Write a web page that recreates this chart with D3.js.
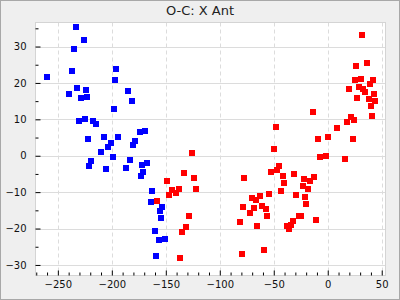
<!DOCTYPE html>
<html>
<head>
<meta charset="utf-8">
<script src="https://cdn.jsdelivr.net/npm/d3@7"></script>
<style>
  body { margin: 0; background: #efefef; }
  svg { display: block; font-family: "DejaVu Sans", sans-serif; }
</style>
</head>
<body>
<svg width="400" height="300"></svg>
<script>
var title = "O-C: X Ant";

// blue series (x, y)
var blueX = [-233.6, -226.2, -235.5, -237.3, -196.5, -259.6, -197.5, -232.7, -224.3, -240.1,
    -185.4, -229.0, -223.4, -181.7, -198.4, -230.8, -225.3, -217.9, -215.1, -174.3,
    -169.6, -207.7, -194.7, -222.5, -178.9, -201.2, -204.0, -180.8, -210.4, -199.3,
    -219.7, -221.6, -183.6, -205.8, -187.3, -172.4, -167.8, -171.5, -173.4, -163.2,
    -164.1, -153.9, -155.7, -154.8, -160.4, -156.7, -151.1, -159.5];
var blueY = [35.4, 31.8, 29.3, 23.3, 23.8, 21.6, 20.8, 18.6, 18.1, 17.0,
    17.8, 15.9, 16.1, 15.0, 12.8, 9.6, 10.1, 9.6, 8.7, 6.5,
    6.8, 5.2, 5.2, 4.5, 4.1, 3.5, 2.4, 3.0, 1.0, -0.3,
    -1.4, -2.8, -1.2, -3.6, -3.3, -2.5, -2.0, -4.4, -5.5, -9.7,
    -12.7, -14.1, -15.2, -17.1, -20.6, -23.1, -22.8, -27.5];

// red series (x, y)
var redX = [-126.1, -133.5, -124.2, -149.3, -122.4, -144.6, -138.1, -140.9, -147.4, -158.5,
    -128.9, -131.6, -135.3, -137.2, -50.1, -7.4, -1.9, -45.4, -47.3, -52.8,
    -77.9, -41.7, -31.5, -13.0, -22.2, -16.7, -40.8, -23.2, -18.5, -43.6,
    -54.7, -29.7, -21.3, -63.0, -70.5, -66.7, -20.4, -78.8, -68.6, -61.2,
    -57.5, -72.3, -56.5, -26.9, -25.0, -32.4, -11.1, -81.6, -34.3, -38.0,
    -36.2, -65.8, -59.3, -79.7, 31.5, 26.0, 36.2, 25.0, 30.6, 41.7,
    38.9, 19.5, 28.7, 32.4, 34.3, 42.6, 26.9, 38.0, 43.6, 39.9,
    40.8, -13.9, 21.3, 24.1, 17.6, 8.3, 0.0, -9.3, 23.2, -48.2, 15.8];
var redY = [0.8, -4.7, -6.1, -6.9, -9.1, -9.4, -9.1, -10.2, -10.8, -12.4,
    -16.5, -19.5, -20.9, -28.1, 1.9, -0.3, -0.1, -2.8, -3.9, -4.4,
    -6.1, -5.5, -5.0, -5.8, -6.4, -6.9, -7.5, -8.3, -9.1, -9.7,
    -10.5, -10.8, -11.3, -11.0, -11.6, -12.1, -13.2, -14.1, -14.3, -13.8,
    -14.6, -15.7, -16.5, -16.5, -16.5, -17.9, -17.6, -18.2, -19.0, -19.3,
    -20.1, -19.3, -25.9, -27.0, 33.2, 24.6, 25.5, 20.8, 21.1, 20.8,
    19.7, 18.3, 18.9, 18.3, 17.5, 17.0, 15.9, 15.6, 15.0, 13.7,
    10.9, 12.0, 10.7, 9.8, 9.3, 7.6, 5.2, 4.6, 4.6, 7.9, -0.9];

var xMajor = [-250, -200, -150, -100, -50, 0, 50];
var yMajor = [-30, -20, -10, 0, 10, 20, 30];

var svg = d3.select("svg"),
    plot = {left: 35.5, right: 385.5, top: 22.5, bottom: 275.5};

var x = d3.scaleLinear().domain([-270.7, 53.5]).range([plot.left, plot.right]),
    y = d3.scaleLinear().domain([-32.9, 36.6]).range([plot.bottom, plot.top]);

// outer frame
svg.append("rect")
    .attr("x", 0.5).attr("y", 0.5).attr("width", 399).attr("height", 299)
    .attr("fill", "#efefef").attr("stroke", "#a8a8a8");

svg.append("text")
    .attr("x", 200).attr("y", 15)
    .attr("text-anchor", "middle")
    .attr("font-size", 13)
    .attr("fill", "#222")
    .text(title);

// plot area
svg.append("rect")
    .attr("x", plot.left).attr("y", plot.top)
    .attr("width", plot.right - plot.left).attr("height", plot.bottom - plot.top)
    .attr("fill", "#fff");

// grid
svg.append("g").selectAll("line").data(yMajor).enter().append("line")
    .attr("x1", plot.left).attr("x2", plot.right)
    .attr("y1", function (d) { return Math.round(y(d)) + 0.5; })
    .attr("y2", function (d) { return Math.round(y(d)) + 0.5; })
    .attr("stroke", "#dcdcdc");

svg.append("g").selectAll("line").data(xMajor).enter().append("line")
    .attr("x1", function (d) { return Math.round(x(d)) + 0.5; })
    .attr("x2", function (d) { return Math.round(x(d)) + 0.5; })
    .attr("y1", plot.top).attr("y2", plot.bottom)
    .attr("stroke", "#dcdcdc")
    .attr("stroke-dasharray", "4,3");

// points
svg.append("g").selectAll("rect").data(d3.range(blueX.length)).enter().append("rect")
    .attr("x", function (i) { return Math.round(x(blueX[i])) - 3; })
    .attr("y", function (i) { return Math.round(y(blueY[i])) - 3; })
    .attr("width", 6).attr("height", 6)
    .attr("fill", "#0000ff");

svg.append("g").selectAll("rect").data(d3.range(redX.length)).enter().append("rect")
    .attr("x", function (i) { return Math.round(x(redX[i])) - 3; })
    .attr("y", function (i) { return Math.round(y(redY[i])) - 3; })
    .attr("width", 6).attr("height", 6)
    .attr("fill", "#ff0000");

// plot border
svg.append("rect")
    .attr("x", plot.left).attr("y", plot.top)
    .attr("width", plot.right - plot.left).attr("height", plot.bottom - plot.top)
    .attr("fill", "none").attr("stroke", "#d4d4d4");

// axes, ticks pointing inward
var xMinor = d3.range(-270, 54, 10).filter(function (d) { return xMajor.indexOf(d) < 0; }),
    yMinor = d3.range(-30, 37, 5).filter(function (d) { return yMajor.indexOf(d) < 0; });

var gx = svg.append("g").attr("transform", "translate(0," + plot.bottom + ")");
gx.call(d3.axisBottom(x).tickValues(xMajor).tickSize(-5).tickPadding(5));
gx.append("g").call(d3.axisBottom(x).tickValues(xMinor).tickSize(-3).tickFormat(""));

var gy = svg.append("g").attr("transform", "translate(" + plot.left + ",0)");
gy.call(d3.axisLeft(y).tickValues(yMajor).tickSize(-5).tickPadding(9));
gy.append("g").call(d3.axisLeft(y).tickValues(yMinor).tickSize(-3).tickFormat(""));

svg.selectAll(".domain").remove();
svg.selectAll(".tick line").attr("stroke", "#000");
svg.selectAll(".tick text")
    .attr("font-family", "DejaVu Sans, sans-serif")
    .attr("font-size", 10)
    .attr("fill", "#111");
</script>
</body>
</html>
